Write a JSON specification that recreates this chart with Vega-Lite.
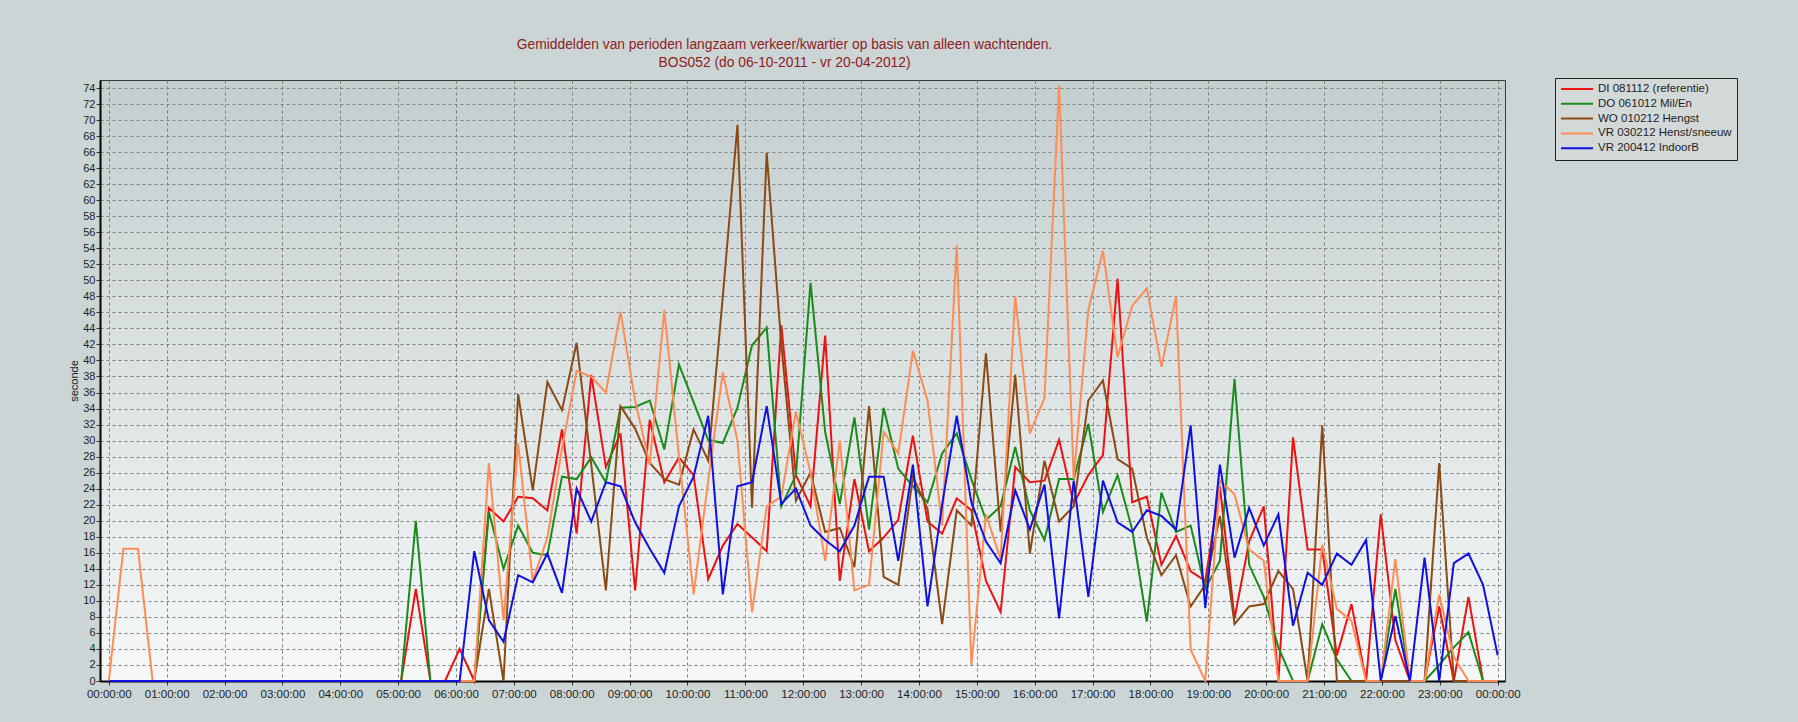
{
  "$schema": "https://vega.github.io/schema/vega-lite/v6.json",
  "width": 1405,
  "height": 601,
  "autosize": {"type": "none"},
  "padding": {"left": 100, "top": 80, "right": 293, "bottom": 41},
  "background": "#cbd5d5",
  "title": {
    "text": ["Gemiddelden van perioden langzaam verkeer/kwartier op basis van alleen wachtenden.", "BOS052 (do 06-10-2011 - vr 20-04-2012)"],
    "color": "#8f2020",
    "font": "Liberation Sans",
    "fontSize": 13.8,
    "fontWeight": "normal",
    "anchor": "middle",
    "dx": -18,
    "offset": 8,
    "lineHeight": 18
  },
  "config": {
    "view": {
      "stroke": "#3a3a3a",
      "strokeWidth": 1,
      "fill": {"gradient": "linear", "x1": 0, "y1": 0, "x2": 0, "y2": 1, "stops": [{"offset": 0, "color": "#c3cece"}, {"offset": 1, "color": "#f6f8f8"}]}
    },
    "font": "Liberation Sans"
  },
  "data": {"values": [
{"kwartier":0,"serie":"DI 081112 (referentie)","seconde":0},{"kwartier":1,"serie":"DI 081112 (referentie)","seconde":0},{"kwartier":2,"serie":"DI 081112 (referentie)","seconde":0},{"kwartier":3,"serie":"DI 081112 (referentie)","seconde":0},{"kwartier":4,"serie":"DI 081112 (referentie)","seconde":0},{"kwartier":5,"serie":"DI 081112 (referentie)","seconde":0},{"kwartier":6,"serie":"DI 081112 (referentie)","seconde":0},{"kwartier":7,"serie":"DI 081112 (referentie)","seconde":0},{"kwartier":8,"serie":"DI 081112 (referentie)","seconde":0},{"kwartier":9,"serie":"DI 081112 (referentie)","seconde":0},
{"kwartier":10,"serie":"DI 081112 (referentie)","seconde":0},{"kwartier":11,"serie":"DI 081112 (referentie)","seconde":0},{"kwartier":12,"serie":"DI 081112 (referentie)","seconde":0},{"kwartier":13,"serie":"DI 081112 (referentie)","seconde":0},{"kwartier":14,"serie":"DI 081112 (referentie)","seconde":0},{"kwartier":15,"serie":"DI 081112 (referentie)","seconde":0},{"kwartier":16,"serie":"DI 081112 (referentie)","seconde":0},{"kwartier":17,"serie":"DI 081112 (referentie)","seconde":0},{"kwartier":18,"serie":"DI 081112 (referentie)","seconde":0},{"kwartier":19,"serie":"DI 081112 (referentie)","seconde":0},
{"kwartier":20,"serie":"DI 081112 (referentie)","seconde":0},{"kwartier":21,"serie":"DI 081112 (referentie)","seconde":11.5},{"kwartier":22,"serie":"DI 081112 (referentie)","seconde":0},{"kwartier":23,"serie":"DI 081112 (referentie)","seconde":0},{"kwartier":24,"serie":"DI 081112 (referentie)","seconde":4},{"kwartier":25,"serie":"DI 081112 (referentie)","seconde":0},{"kwartier":26,"serie":"DI 081112 (referentie)","seconde":21.6},{"kwartier":27,"serie":"DI 081112 (referentie)","seconde":19.9},{"kwartier":28,"serie":"DI 081112 (referentie)","seconde":23},{"kwartier":29,"serie":"DI 081112 (referentie)","seconde":22.8},
{"kwartier":30,"serie":"DI 081112 (referentie)","seconde":21.3},{"kwartier":31,"serie":"DI 081112 (referentie)","seconde":31.4},{"kwartier":32,"serie":"DI 081112 (referentie)","seconde":18.4},{"kwartier":33,"serie":"DI 081112 (referentie)","seconde":38.2},{"kwartier":34,"serie":"DI 081112 (referentie)","seconde":26.7},{"kwartier":35,"serie":"DI 081112 (referentie)","seconde":30.9},{"kwartier":36,"serie":"DI 081112 (referentie)","seconde":11.3},{"kwartier":37,"serie":"DI 081112 (referentie)","seconde":32.6},{"kwartier":38,"serie":"DI 081112 (referentie)","seconde":24.8},{"kwartier":39,"serie":"DI 081112 (referentie)","seconde":27.9},
{"kwartier":40,"serie":"DI 081112 (referentie)","seconde":25.7},{"kwartier":41,"serie":"DI 081112 (referentie)","seconde":12.7},{"kwartier":42,"serie":"DI 081112 (referentie)","seconde":16.9},{"kwartier":43,"serie":"DI 081112 (referentie)","seconde":19.6},{"kwartier":44,"serie":"DI 081112 (referentie)","seconde":17.9},{"kwartier":45,"serie":"DI 081112 (referentie)","seconde":16.2},{"kwartier":46,"serie":"DI 081112 (referentie)","seconde":44.4},{"kwartier":47,"serie":"DI 081112 (referentie)","seconde":25.7},{"kwartier":48,"serie":"DI 081112 (referentie)","seconde":21.8},{"kwartier":49,"serie":"DI 081112 (referentie)","seconde":43.1},
{"kwartier":50,"serie":"DI 081112 (referentie)","seconde":12.5},{"kwartier":51,"serie":"DI 081112 (referentie)","seconde":25.2},{"kwartier":52,"serie":"DI 081112 (referentie)","seconde":16.2},{"kwartier":53,"serie":"DI 081112 (referentie)","seconde":17.9},{"kwartier":54,"serie":"DI 081112 (referentie)","seconde":20.1},{"kwartier":55,"serie":"DI 081112 (referentie)","seconde":30.6},{"kwartier":56,"serie":"DI 081112 (referentie)","seconde":19.9},{"kwartier":57,"serie":"DI 081112 (referentie)","seconde":18.4},{"kwartier":58,"serie":"DI 081112 (referentie)","seconde":22.8},{"kwartier":59,"serie":"DI 081112 (referentie)","seconde":21.3},
{"kwartier":60,"serie":"DI 081112 (referentie)","seconde":12.5},{"kwartier":61,"serie":"DI 081112 (referentie)","seconde":8.6},{"kwartier":62,"serie":"DI 081112 (referentie)","seconde":26.7},{"kwartier":63,"serie":"DI 081112 (referentie)","seconde":24.8},{"kwartier":64,"serie":"DI 081112 (referentie)","seconde":25},{"kwartier":65,"serie":"DI 081112 (referentie)","seconde":30.1},{"kwartier":66,"serie":"DI 081112 (referentie)","seconde":22.1},{"kwartier":67,"serie":"DI 081112 (referentie)","seconde":25.7},{"kwartier":68,"serie":"DI 081112 (referentie)","seconde":28.2},{"kwartier":69,"serie":"DI 081112 (referentie)","seconde":50.2},
{"kwartier":70,"serie":"DI 081112 (referentie)","seconde":22.3},{"kwartier":71,"serie":"DI 081112 (referentie)","seconde":23},{"kwartier":72,"serie":"DI 081112 (referentie)","seconde":14.5},{"kwartier":73,"serie":"DI 081112 (referentie)","seconde":18.1},{"kwartier":74,"serie":"DI 081112 (referentie)","seconde":13.7},{"kwartier":75,"serie":"DI 081112 (referentie)","seconde":12.5},{"kwartier":76,"serie":"DI 081112 (referentie)","seconde":24.3},{"kwartier":77,"serie":"DI 081112 (referentie)","seconde":7.8},{"kwartier":78,"serie":"DI 081112 (referentie)","seconde":17.4},{"kwartier":79,"serie":"DI 081112 (referentie)","seconde":21.8},
{"kwartier":80,"serie":"DI 081112 (referentie)","seconde":0},{"kwartier":81,"serie":"DI 081112 (referentie)","seconde":30.4},{"kwartier":82,"serie":"DI 081112 (referentie)","seconde":16.4},{"kwartier":83,"serie":"DI 081112 (referentie)","seconde":16.4},{"kwartier":84,"serie":"DI 081112 (referentie)","seconde":3.2},{"kwartier":85,"serie":"DI 081112 (referentie)","seconde":9.6},{"kwartier":86,"serie":"DI 081112 (referentie)","seconde":0},{"kwartier":87,"serie":"DI 081112 (referentie)","seconde":20.8},{"kwartier":88,"serie":"DI 081112 (referentie)","seconde":5.1},{"kwartier":89,"serie":"DI 081112 (referentie)","seconde":0},
{"kwartier":90,"serie":"DI 081112 (referentie)","seconde":0},{"kwartier":91,"serie":"DI 081112 (referentie)","seconde":9.3},{"kwartier":92,"serie":"DI 081112 (referentie)","seconde":0},{"kwartier":93,"serie":"DI 081112 (referentie)","seconde":10.5},{"kwartier":94,"serie":"DI 081112 (referentie)","seconde":0},{"kwartier":95,"serie":"DI 081112 (referentie)","seconde":0},

{"kwartier":0,"serie":"DO 061012 Mil/En","seconde":0},{"kwartier":1,"serie":"DO 061012 Mil/En","seconde":0},{"kwartier":2,"serie":"DO 061012 Mil/En","seconde":0},{"kwartier":3,"serie":"DO 061012 Mil/En","seconde":0},{"kwartier":4,"serie":"DO 061012 Mil/En","seconde":0},{"kwartier":5,"serie":"DO 061012 Mil/En","seconde":0},{"kwartier":6,"serie":"DO 061012 Mil/En","seconde":0},{"kwartier":7,"serie":"DO 061012 Mil/En","seconde":0},{"kwartier":8,"serie":"DO 061012 Mil/En","seconde":0},{"kwartier":9,"serie":"DO 061012 Mil/En","seconde":0},
{"kwartier":10,"serie":"DO 061012 Mil/En","seconde":0},{"kwartier":11,"serie":"DO 061012 Mil/En","seconde":0},{"kwartier":12,"serie":"DO 061012 Mil/En","seconde":0},{"kwartier":13,"serie":"DO 061012 Mil/En","seconde":0},{"kwartier":14,"serie":"DO 061012 Mil/En","seconde":0},{"kwartier":15,"serie":"DO 061012 Mil/En","seconde":0},{"kwartier":16,"serie":"DO 061012 Mil/En","seconde":0},{"kwartier":17,"serie":"DO 061012 Mil/En","seconde":0},{"kwartier":18,"serie":"DO 061012 Mil/En","seconde":0},{"kwartier":19,"serie":"DO 061012 Mil/En","seconde":0},
{"kwartier":20,"serie":"DO 061012 Mil/En","seconde":0},{"kwartier":21,"serie":"DO 061012 Mil/En","seconde":20},{"kwartier":22,"serie":"DO 061012 Mil/En","seconde":0},{"kwartier":23,"serie":"DO 061012 Mil/En","seconde":0},{"kwartier":24,"serie":"DO 061012 Mil/En","seconde":0},{"kwartier":25,"serie":"DO 061012 Mil/En","seconde":0},{"kwartier":26,"serie":"DO 061012 Mil/En","seconde":21.1},{"kwartier":27,"serie":"DO 061012 Mil/En","seconde":14},{"kwartier":28,"serie":"DO 061012 Mil/En","seconde":19.4},{"kwartier":29,"serie":"DO 061012 Mil/En","seconde":16},
{"kwartier":30,"serie":"DO 061012 Mil/En","seconde":15.7},{"kwartier":31,"serie":"DO 061012 Mil/En","seconde":25.5},{"kwartier":32,"serie":"DO 061012 Mil/En","seconde":25.2},{"kwartier":33,"serie":"DO 061012 Mil/En","seconde":27.9},{"kwartier":34,"serie":"DO 061012 Mil/En","seconde":24.8},{"kwartier":35,"serie":"DO 061012 Mil/En","seconde":34.1},{"kwartier":36,"serie":"DO 061012 Mil/En","seconde":34.2},{"kwartier":37,"serie":"DO 061012 Mil/En","seconde":35},{"kwartier":38,"serie":"DO 061012 Mil/En","seconde":28.9},{"kwartier":39,"serie":"DO 061012 Mil/En","seconde":39.5},
{"kwartier":40,"serie":"DO 061012 Mil/En","seconde":34.8},{"kwartier":41,"serie":"DO 061012 Mil/En","seconde":30.1},{"kwartier":42,"serie":"DO 061012 Mil/En","seconde":29.7},{"kwartier":43,"serie":"DO 061012 Mil/En","seconde":34.1},{"kwartier":44,"serie":"DO 061012 Mil/En","seconde":41.9},{"kwartier":45,"serie":"DO 061012 Mil/En","seconde":44.1},{"kwartier":46,"serie":"DO 061012 Mil/En","seconde":21.8},{"kwartier":47,"serie":"DO 061012 Mil/En","seconde":25.7},{"kwartier":48,"serie":"DO 061012 Mil/En","seconde":49.7},{"kwartier":49,"serie":"DO 061012 Mil/En","seconde":31.1},
{"kwartier":50,"serie":"DO 061012 Mil/En","seconde":22.1},{"kwartier":51,"serie":"DO 061012 Mil/En","seconde":32.9},{"kwartier":52,"serie":"DO 061012 Mil/En","seconde":18.9},{"kwartier":53,"serie":"DO 061012 Mil/En","seconde":34.1},{"kwartier":54,"serie":"DO 061012 Mil/En","seconde":26.5},{"kwartier":55,"serie":"DO 061012 Mil/En","seconde":24.3},{"kwartier":56,"serie":"DO 061012 Mil/En","seconde":22.3},{"kwartier":57,"serie":"DO 061012 Mil/En","seconde":28.4},{"kwartier":58,"serie":"DO 061012 Mil/En","seconde":30.9},{"kwartier":59,"serie":"DO 061012 Mil/En","seconde":25.2},
{"kwartier":60,"serie":"DO 061012 Mil/En","seconde":20.1},{"kwartier":61,"serie":"DO 061012 Mil/En","seconde":21.8},{"kwartier":62,"serie":"DO 061012 Mil/En","seconde":29.2},{"kwartier":63,"serie":"DO 061012 Mil/En","seconde":21.3},{"kwartier":64,"serie":"DO 061012 Mil/En","seconde":17.6},{"kwartier":65,"serie":"DO 061012 Mil/En","seconde":25.2},{"kwartier":66,"serie":"DO 061012 Mil/En","seconde":25.2},{"kwartier":67,"serie":"DO 061012 Mil/En","seconde":32.1},{"kwartier":68,"serie":"DO 061012 Mil/En","seconde":21.1},{"kwartier":69,"serie":"DO 061012 Mil/En","seconde":25.7},
{"kwartier":70,"serie":"DO 061012 Mil/En","seconde":18.9},{"kwartier":71,"serie":"DO 061012 Mil/En","seconde":7.4},{"kwartier":72,"serie":"DO 061012 Mil/En","seconde":23.5},{"kwartier":73,"serie":"DO 061012 Mil/En","seconde":18.6},{"kwartier":74,"serie":"DO 061012 Mil/En","seconde":19.4},{"kwartier":75,"serie":"DO 061012 Mil/En","seconde":11.5},{"kwartier":76,"serie":"DO 061012 Mil/En","seconde":15},{"kwartier":77,"serie":"DO 061012 Mil/En","seconde":37.7},{"kwartier":78,"serie":"DO 061012 Mil/En","seconde":14.5},{"kwartier":79,"serie":"DO 061012 Mil/En","seconde":10.5},
{"kwartier":80,"serie":"DO 061012 Mil/En","seconde":4.2},{"kwartier":81,"serie":"DO 061012 Mil/En","seconde":0},{"kwartier":82,"serie":"DO 061012 Mil/En","seconde":0},{"kwartier":83,"serie":"DO 061012 Mil/En","seconde":7.1},{"kwartier":84,"serie":"DO 061012 Mil/En","seconde":2.7},{"kwartier":85,"serie":"DO 061012 Mil/En","seconde":0},{"kwartier":86,"serie":"DO 061012 Mil/En","seconde":0},{"kwartier":87,"serie":"DO 061012 Mil/En","seconde":0},{"kwartier":88,"serie":"DO 061012 Mil/En","seconde":11.5},{"kwartier":89,"serie":"DO 061012 Mil/En","seconde":0},
{"kwartier":90,"serie":"DO 061012 Mil/En","seconde":0},{"kwartier":91,"serie":"DO 061012 Mil/En","seconde":2},{"kwartier":92,"serie":"DO 061012 Mil/En","seconde":4.2},{"kwartier":93,"serie":"DO 061012 Mil/En","seconde":6.1},{"kwartier":94,"serie":"DO 061012 Mil/En","seconde":0},{"kwartier":95,"serie":"DO 061012 Mil/En","seconde":0},

{"kwartier":0,"serie":"WO 010212 Hengst","seconde":0},{"kwartier":1,"serie":"WO 010212 Hengst","seconde":0},{"kwartier":2,"serie":"WO 010212 Hengst","seconde":0},{"kwartier":3,"serie":"WO 010212 Hengst","seconde":0},{"kwartier":4,"serie":"WO 010212 Hengst","seconde":0},{"kwartier":5,"serie":"WO 010212 Hengst","seconde":0},{"kwartier":6,"serie":"WO 010212 Hengst","seconde":0},{"kwartier":7,"serie":"WO 010212 Hengst","seconde":0},{"kwartier":8,"serie":"WO 010212 Hengst","seconde":0},{"kwartier":9,"serie":"WO 010212 Hengst","seconde":0},
{"kwartier":10,"serie":"WO 010212 Hengst","seconde":0},{"kwartier":11,"serie":"WO 010212 Hengst","seconde":0},{"kwartier":12,"serie":"WO 010212 Hengst","seconde":0},{"kwartier":13,"serie":"WO 010212 Hengst","seconde":0},{"kwartier":14,"serie":"WO 010212 Hengst","seconde":0},{"kwartier":15,"serie":"WO 010212 Hengst","seconde":0},{"kwartier":16,"serie":"WO 010212 Hengst","seconde":0},{"kwartier":17,"serie":"WO 010212 Hengst","seconde":0},{"kwartier":18,"serie":"WO 010212 Hengst","seconde":0},{"kwartier":19,"serie":"WO 010212 Hengst","seconde":0},
{"kwartier":20,"serie":"WO 010212 Hengst","seconde":0},{"kwartier":21,"serie":"WO 010212 Hengst","seconde":0},{"kwartier":22,"serie":"WO 010212 Hengst","seconde":0},{"kwartier":23,"serie":"WO 010212 Hengst","seconde":0},{"kwartier":24,"serie":"WO 010212 Hengst","seconde":0},{"kwartier":25,"serie":"WO 010212 Hengst","seconde":0},{"kwartier":26,"serie":"WO 010212 Hengst","seconde":11.5},{"kwartier":27,"serie":"WO 010212 Hengst","seconde":0},{"kwartier":28,"serie":"WO 010212 Hengst","seconde":35.8},{"kwartier":29,"serie":"WO 010212 Hengst","seconde":23.8},
{"kwartier":30,"serie":"WO 010212 Hengst","seconde":37.3},{"kwartier":31,"serie":"WO 010212 Hengst","seconde":33.8},{"kwartier":32,"serie":"WO 010212 Hengst","seconde":42.2},{"kwartier":33,"serie":"WO 010212 Hengst","seconde":27},{"kwartier":34,"serie":"WO 010212 Hengst","seconde":11.3},{"kwartier":35,"serie":"WO 010212 Hengst","seconde":34.3},{"kwartier":36,"serie":"WO 010212 Hengst","seconde":31.5},{"kwartier":37,"serie":"WO 010212 Hengst","seconde":27.2},{"kwartier":38,"serie":"WO 010212 Hengst","seconde":25.2},{"kwartier":39,"serie":"WO 010212 Hengst","seconde":24.5},
{"kwartier":40,"serie":"WO 010212 Hengst","seconde":31.4},{"kwartier":41,"serie":"WO 010212 Hengst","seconde":27.5},{"kwartier":42,"serie":"WO 010212 Hengst","seconde":48},{"kwartier":43,"serie":"WO 010212 Hengst","seconde":69.4},{"kwartier":44,"serie":"WO 010212 Hengst","seconde":21.6},{"kwartier":45,"serie":"WO 010212 Hengst","seconde":65.9},{"kwartier":46,"serie":"WO 010212 Hengst","seconde":42},{"kwartier":47,"serie":"WO 010212 Hengst","seconde":22.5},{"kwartier":48,"serie":"WO 010212 Hengst","seconde":26},{"kwartier":49,"serie":"WO 010212 Hengst","seconde":18.6},
{"kwartier":50,"serie":"WO 010212 Hengst","seconde":19.1},{"kwartier":51,"serie":"WO 010212 Hengst","seconde":14.2},{"kwartier":52,"serie":"WO 010212 Hengst","seconde":34.3},{"kwartier":53,"serie":"WO 010212 Hengst","seconde":13},{"kwartier":54,"serie":"WO 010212 Hengst","seconde":12},{"kwartier":55,"serie":"WO 010212 Hengst","seconde":25.5},{"kwartier":56,"serie":"WO 010212 Hengst","seconde":21.5},{"kwartier":57,"serie":"WO 010212 Hengst","seconde":7.1},{"kwartier":58,"serie":"WO 010212 Hengst","seconde":21.3},{"kwartier":59,"serie":"WO 010212 Hengst","seconde":19.4},
{"kwartier":60,"serie":"WO 010212 Hengst","seconde":40.9},{"kwartier":61,"serie":"WO 010212 Hengst","seconde":18.6},{"kwartier":62,"serie":"WO 010212 Hengst","seconde":38.2},{"kwartier":63,"serie":"WO 010212 Hengst","seconde":15.9},{"kwartier":64,"serie":"WO 010212 Hengst","seconde":27.5},{"kwartier":65,"serie":"WO 010212 Hengst","seconde":19.9},{"kwartier":66,"serie":"WO 010212 Hengst","seconde":21.8},{"kwartier":67,"serie":"WO 010212 Hengst","seconde":35},{"kwartier":68,"serie":"WO 010212 Hengst","seconde":37.5},{"kwartier":69,"serie":"WO 010212 Hengst","seconde":27.7},
{"kwartier":70,"serie":"WO 010212 Hengst","seconde":26.5},{"kwartier":71,"serie":"WO 010212 Hengst","seconde":17.9},{"kwartier":72,"serie":"WO 010212 Hengst","seconde":13.2},{"kwartier":73,"serie":"WO 010212 Hengst","seconde":15.7},{"kwartier":74,"serie":"WO 010212 Hengst","seconde":9.3},{"kwartier":75,"serie":"WO 010212 Hengst","seconde":12},{"kwartier":76,"serie":"WO 010212 Hengst","seconde":20.6},{"kwartier":77,"serie":"WO 010212 Hengst","seconde":7.1},{"kwartier":78,"serie":"WO 010212 Hengst","seconde":9.3},{"kwartier":79,"serie":"WO 010212 Hengst","seconde":9.6},
{"kwartier":80,"serie":"WO 010212 Hengst","seconde":13.7},{"kwartier":81,"serie":"WO 010212 Hengst","seconde":11.5},{"kwartier":82,"serie":"WO 010212 Hengst","seconde":0},{"kwartier":83,"serie":"WO 010212 Hengst","seconde":31.9},{"kwartier":84,"serie":"WO 010212 Hengst","seconde":0},{"kwartier":85,"serie":"WO 010212 Hengst","seconde":0},{"kwartier":86,"serie":"WO 010212 Hengst","seconde":0},{"kwartier":87,"serie":"WO 010212 Hengst","seconde":0},{"kwartier":88,"serie":"WO 010212 Hengst","seconde":0},{"kwartier":89,"serie":"WO 010212 Hengst","seconde":0},
{"kwartier":90,"serie":"WO 010212 Hengst","seconde":0},{"kwartier":91,"serie":"WO 010212 Hengst","seconde":27.2},{"kwartier":92,"serie":"WO 010212 Hengst","seconde":0},{"kwartier":93,"serie":"WO 010212 Hengst","seconde":0},{"kwartier":94,"serie":"WO 010212 Hengst","seconde":0},{"kwartier":95,"serie":"WO 010212 Hengst","seconde":0},

{"kwartier":0,"serie":"VR 030212 Henst/sneeuw","seconde":0},{"kwartier":1,"serie":"VR 030212 Henst/sneeuw","seconde":16.5},{"kwartier":2,"serie":"VR 030212 Henst/sneeuw","seconde":16.5},{"kwartier":3,"serie":"VR 030212 Henst/sneeuw","seconde":0},{"kwartier":4,"serie":"VR 030212 Henst/sneeuw","seconde":0},{"kwartier":5,"serie":"VR 030212 Henst/sneeuw","seconde":0},{"kwartier":6,"serie":"VR 030212 Henst/sneeuw","seconde":0},{"kwartier":7,"serie":"VR 030212 Henst/sneeuw","seconde":0},{"kwartier":8,"serie":"VR 030212 Henst/sneeuw","seconde":0},{"kwartier":9,"serie":"VR 030212 Henst/sneeuw","seconde":0},
{"kwartier":10,"serie":"VR 030212 Henst/sneeuw","seconde":0},{"kwartier":11,"serie":"VR 030212 Henst/sneeuw","seconde":0},{"kwartier":12,"serie":"VR 030212 Henst/sneeuw","seconde":0},{"kwartier":13,"serie":"VR 030212 Henst/sneeuw","seconde":0},{"kwartier":14,"serie":"VR 030212 Henst/sneeuw","seconde":0},{"kwartier":15,"serie":"VR 030212 Henst/sneeuw","seconde":0},{"kwartier":16,"serie":"VR 030212 Henst/sneeuw","seconde":0},{"kwartier":17,"serie":"VR 030212 Henst/sneeuw","seconde":0},{"kwartier":18,"serie":"VR 030212 Henst/sneeuw","seconde":0},{"kwartier":19,"serie":"VR 030212 Henst/sneeuw","seconde":0},
{"kwartier":20,"serie":"VR 030212 Henst/sneeuw","seconde":0},{"kwartier":21,"serie":"VR 030212 Henst/sneeuw","seconde":0},{"kwartier":22,"serie":"VR 030212 Henst/sneeuw","seconde":0},{"kwartier":23,"serie":"VR 030212 Henst/sneeuw","seconde":0},{"kwartier":24,"serie":"VR 030212 Henst/sneeuw","seconde":0},{"kwartier":25,"serie":"VR 030212 Henst/sneeuw","seconde":0},{"kwartier":26,"serie":"VR 030212 Henst/sneeuw","seconde":27.2},{"kwartier":27,"serie":"VR 030212 Henst/sneeuw","seconde":7.6},{"kwartier":28,"serie":"VR 030212 Henst/sneeuw","seconde":29.7},{"kwartier":29,"serie":"VR 030212 Henst/sneeuw","seconde":12.5},
{"kwartier":30,"serie":"VR 030212 Henst/sneeuw","seconde":17.9},{"kwartier":31,"serie":"VR 030212 Henst/sneeuw","seconde":29},{"kwartier":32,"serie":"VR 030212 Henst/sneeuw","seconde":38.7},{"kwartier":33,"serie":"VR 030212 Henst/sneeuw","seconde":38},{"kwartier":34,"serie":"VR 030212 Henst/sneeuw","seconde":36},{"kwartier":35,"serie":"VR 030212 Henst/sneeuw","seconde":46.1},{"kwartier":36,"serie":"VR 030212 Henst/sneeuw","seconde":35},{"kwartier":37,"serie":"VR 030212 Henst/sneeuw","seconde":27},{"kwartier":38,"serie":"VR 030212 Henst/sneeuw","seconde":46.3},{"kwartier":39,"serie":"VR 030212 Henst/sneeuw","seconde":28},
{"kwartier":40,"serie":"VR 030212 Henst/sneeuw","seconde":10.8},{"kwartier":41,"serie":"VR 030212 Henst/sneeuw","seconde":25},{"kwartier":42,"serie":"VR 030212 Henst/sneeuw","seconde":38.5},{"kwartier":43,"serie":"VR 030212 Henst/sneeuw","seconde":30},{"kwartier":44,"serie":"VR 030212 Henst/sneeuw","seconde":8.6},{"kwartier":45,"serie":"VR 030212 Henst/sneeuw","seconde":21.8},{"kwartier":46,"serie":"VR 030212 Henst/sneeuw","seconde":23},{"kwartier":47,"serie":"VR 030212 Henst/sneeuw","seconde":33.6},{"kwartier":48,"serie":"VR 030212 Henst/sneeuw","seconde":26},{"kwartier":49,"serie":"VR 030212 Henst/sneeuw","seconde":15},
{"kwartier":50,"serie":"VR 030212 Henst/sneeuw","seconde":30},{"kwartier":51,"serie":"VR 030212 Henst/sneeuw","seconde":11.3},{"kwartier":52,"serie":"VR 030212 Henst/sneeuw","seconde":12},{"kwartier":53,"serie":"VR 030212 Henst/sneeuw","seconde":31.1},{"kwartier":54,"serie":"VR 030212 Henst/sneeuw","seconde":28.4},{"kwartier":55,"serie":"VR 030212 Henst/sneeuw","seconde":41.2},{"kwartier":56,"serie":"VR 030212 Henst/sneeuw","seconde":35},{"kwartier":57,"serie":"VR 030212 Henst/sneeuw","seconde":19.4},{"kwartier":58,"serie":"VR 030212 Henst/sneeuw","seconde":54.4},{"kwartier":59,"serie":"VR 030212 Henst/sneeuw","seconde":2},
{"kwartier":60,"serie":"VR 030212 Henst/sneeuw","seconde":20.8},{"kwartier":61,"serie":"VR 030212 Henst/sneeuw","seconde":15.2},{"kwartier":62,"serie":"VR 030212 Henst/sneeuw","seconde":48},{"kwartier":63,"serie":"VR 030212 Henst/sneeuw","seconde":30.9},{"kwartier":64,"serie":"VR 030212 Henst/sneeuw","seconde":35.3},{"kwartier":65,"serie":"VR 030212 Henst/sneeuw","seconde":74.3},{"kwartier":66,"serie":"VR 030212 Henst/sneeuw","seconde":25.2},{"kwartier":67,"serie":"VR 030212 Henst/sneeuw","seconde":46.3},{"kwartier":68,"serie":"VR 030212 Henst/sneeuw","seconde":53.7},{"kwartier":69,"serie":"VR 030212 Henst/sneeuw","seconde":40.4},
{"kwartier":70,"serie":"VR 030212 Henst/sneeuw","seconde":46.8},{"kwartier":71,"serie":"VR 030212 Henst/sneeuw","seconde":49},{"kwartier":72,"serie":"VR 030212 Henst/sneeuw","seconde":39.2},{"kwartier":73,"serie":"VR 030212 Henst/sneeuw","seconde":48},{"kwartier":74,"serie":"VR 030212 Henst/sneeuw","seconde":3.9},{"kwartier":75,"serie":"VR 030212 Henst/sneeuw","seconde":0},{"kwartier":76,"serie":"VR 030212 Henst/sneeuw","seconde":25},{"kwartier":77,"serie":"VR 030212 Henst/sneeuw","seconde":23.3},{"kwartier":78,"serie":"VR 030212 Henst/sneeuw","seconde":16.4},{"kwartier":79,"serie":"VR 030212 Henst/sneeuw","seconde":15},
{"kwartier":80,"serie":"VR 030212 Henst/sneeuw","seconde":0},{"kwartier":81,"serie":"VR 030212 Henst/sneeuw","seconde":0},{"kwartier":82,"serie":"VR 030212 Henst/sneeuw","seconde":0},{"kwartier":83,"serie":"VR 030212 Henst/sneeuw","seconde":17},{"kwartier":84,"serie":"VR 030212 Henst/sneeuw","seconde":9},{"kwartier":85,"serie":"VR 030212 Henst/sneeuw","seconde":7.5},{"kwartier":86,"serie":"VR 030212 Henst/sneeuw","seconde":0},{"kwartier":87,"serie":"VR 030212 Henst/sneeuw","seconde":0},{"kwartier":88,"serie":"VR 030212 Henst/sneeuw","seconde":15.2},{"kwartier":89,"serie":"VR 030212 Henst/sneeuw","seconde":0},
{"kwartier":90,"serie":"VR 030212 Henst/sneeuw","seconde":0},{"kwartier":91,"serie":"VR 030212 Henst/sneeuw","seconde":10.8},{"kwartier":92,"serie":"VR 030212 Henst/sneeuw","seconde":3},{"kwartier":93,"serie":"VR 030212 Henst/sneeuw","seconde":0},{"kwartier":94,"serie":"VR 030212 Henst/sneeuw","seconde":0},{"kwartier":95,"serie":"VR 030212 Henst/sneeuw","seconde":0},

{"kwartier":0,"serie":"VR 200412 IndoorB","seconde":0},{"kwartier":1,"serie":"VR 200412 IndoorB","seconde":0},{"kwartier":2,"serie":"VR 200412 IndoorB","seconde":0},{"kwartier":3,"serie":"VR 200412 IndoorB","seconde":0},{"kwartier":4,"serie":"VR 200412 IndoorB","seconde":0},{"kwartier":5,"serie":"VR 200412 IndoorB","seconde":0},{"kwartier":6,"serie":"VR 200412 IndoorB","seconde":0},{"kwartier":7,"serie":"VR 200412 IndoorB","seconde":0},{"kwartier":8,"serie":"VR 200412 IndoorB","seconde":0},{"kwartier":9,"serie":"VR 200412 IndoorB","seconde":0},
{"kwartier":10,"serie":"VR 200412 IndoorB","seconde":0},{"kwartier":11,"serie":"VR 200412 IndoorB","seconde":0},{"kwartier":12,"serie":"VR 200412 IndoorB","seconde":0},{"kwartier":13,"serie":"VR 200412 IndoorB","seconde":0},{"kwartier":14,"serie":"VR 200412 IndoorB","seconde":0},{"kwartier":15,"serie":"VR 200412 IndoorB","seconde":0},{"kwartier":16,"serie":"VR 200412 IndoorB","seconde":0},{"kwartier":17,"serie":"VR 200412 IndoorB","seconde":0},{"kwartier":18,"serie":"VR 200412 IndoorB","seconde":0},{"kwartier":19,"serie":"VR 200412 IndoorB","seconde":0},
{"kwartier":20,"serie":"VR 200412 IndoorB","seconde":0},{"kwartier":21,"serie":"VR 200412 IndoorB","seconde":0},{"kwartier":22,"serie":"VR 200412 IndoorB","seconde":0},{"kwartier":23,"serie":"VR 200412 IndoorB","seconde":0},{"kwartier":24,"serie":"VR 200412 IndoorB","seconde":0},{"kwartier":25,"serie":"VR 200412 IndoorB","seconde":16.2},{"kwartier":26,"serie":"VR 200412 IndoorB","seconde":7.6},{"kwartier":27,"serie":"VR 200412 IndoorB","seconde":4.9},{"kwartier":28,"serie":"VR 200412 IndoorB","seconde":13.2},{"kwartier":29,"serie":"VR 200412 IndoorB","seconde":12.3},
{"kwartier":30,"serie":"VR 200412 IndoorB","seconde":15.9},{"kwartier":31,"serie":"VR 200412 IndoorB","seconde":11},{"kwartier":32,"serie":"VR 200412 IndoorB","seconde":24},{"kwartier":33,"serie":"VR 200412 IndoorB","seconde":19.9},{"kwartier":34,"serie":"VR 200412 IndoorB","seconde":24.8},{"kwartier":35,"serie":"VR 200412 IndoorB","seconde":24.3},{"kwartier":36,"serie":"VR 200412 IndoorB","seconde":19.8},{"kwartier":37,"serie":"VR 200412 IndoorB","seconde":16.5},{"kwartier":38,"serie":"VR 200412 IndoorB","seconde":13.5},{"kwartier":39,"serie":"VR 200412 IndoorB","seconde":21.8},
{"kwartier":40,"serie":"VR 200412 IndoorB","seconde":25.5},{"kwartier":41,"serie":"VR 200412 IndoorB","seconde":33.1},{"kwartier":42,"serie":"VR 200412 IndoorB","seconde":10.8},{"kwartier":43,"serie":"VR 200412 IndoorB","seconde":24.3},{"kwartier":44,"serie":"VR 200412 IndoorB","seconde":24.8},{"kwartier":45,"serie":"VR 200412 IndoorB","seconde":34.3},{"kwartier":46,"serie":"VR 200412 IndoorB","seconde":22.1},{"kwartier":47,"serie":"VR 200412 IndoorB","seconde":24},{"kwartier":48,"serie":"VR 200412 IndoorB","seconde":19.4},{"kwartier":49,"serie":"VR 200412 IndoorB","seconde":17.6},
{"kwartier":50,"serie":"VR 200412 IndoorB","seconde":16.2},{"kwartier":51,"serie":"VR 200412 IndoorB","seconde":19.4},{"kwartier":52,"serie":"VR 200412 IndoorB","seconde":25.5},{"kwartier":53,"serie":"VR 200412 IndoorB","seconde":25.5},{"kwartier":54,"serie":"VR 200412 IndoorB","seconde":15},{"kwartier":55,"serie":"VR 200412 IndoorB","seconde":27},{"kwartier":56,"serie":"VR 200412 IndoorB","seconde":9.3},{"kwartier":57,"serie":"VR 200412 IndoorB","seconde":22},{"kwartier":58,"serie":"VR 200412 IndoorB","seconde":33.1},{"kwartier":59,"serie":"VR 200412 IndoorB","seconde":22.3},
{"kwartier":60,"serie":"VR 200412 IndoorB","seconde":17.4},{"kwartier":61,"serie":"VR 200412 IndoorB","seconde":14.7},{"kwartier":62,"serie":"VR 200412 IndoorB","seconde":23.8},{"kwartier":63,"serie":"VR 200412 IndoorB","seconde":18.9},{"kwartier":64,"serie":"VR 200412 IndoorB","seconde":24.5},{"kwartier":65,"serie":"VR 200412 IndoorB","seconde":7.8},{"kwartier":66,"serie":"VR 200412 IndoorB","seconde":25},{"kwartier":67,"serie":"VR 200412 IndoorB","seconde":10.5},{"kwartier":68,"serie":"VR 200412 IndoorB","seconde":25},{"kwartier":69,"serie":"VR 200412 IndoorB","seconde":19.8},
{"kwartier":70,"serie":"VR 200412 IndoorB","seconde":18.6},{"kwartier":71,"serie":"VR 200412 IndoorB","seconde":21.3},{"kwartier":72,"serie":"VR 200412 IndoorB","seconde":20.6},{"kwartier":73,"serie":"VR 200412 IndoorB","seconde":18.9},{"kwartier":74,"serie":"VR 200412 IndoorB","seconde":31.9},{"kwartier":75,"serie":"VR 200412 IndoorB","seconde":9.1},{"kwartier":76,"serie":"VR 200412 IndoorB","seconde":27},{"kwartier":77,"serie":"VR 200412 IndoorB","seconde":15.4},{"kwartier":78,"serie":"VR 200412 IndoorB","seconde":21.6},{"kwartier":79,"serie":"VR 200412 IndoorB","seconde":16.9},
{"kwartier":80,"serie":"VR 200412 IndoorB","seconde":20.8},{"kwartier":81,"serie":"VR 200412 IndoorB","seconde":6.9},{"kwartier":82,"serie":"VR 200412 IndoorB","seconde":13.5},{"kwartier":83,"serie":"VR 200412 IndoorB","seconde":12},{"kwartier":84,"serie":"VR 200412 IndoorB","seconde":15.9},{"kwartier":85,"serie":"VR 200412 IndoorB","seconde":14.5},{"kwartier":86,"serie":"VR 200412 IndoorB","seconde":17.6},{"kwartier":87,"serie":"VR 200412 IndoorB","seconde":0},{"kwartier":88,"serie":"VR 200412 IndoorB","seconde":8.1},{"kwartier":89,"serie":"VR 200412 IndoorB","seconde":0},
{"kwartier":90,"serie":"VR 200412 IndoorB","seconde":15.4},{"kwartier":91,"serie":"VR 200412 IndoorB","seconde":0},{"kwartier":92,"serie":"VR 200412 IndoorB","seconde":14.7},{"kwartier":93,"serie":"VR 200412 IndoorB","seconde":15.9},{"kwartier":94,"serie":"VR 200412 IndoorB","seconde":12},{"kwartier":95,"serie":"VR 200412 IndoorB","seconde":3.2}
  ]},
  "mark": {"type": "line", "strokeWidth": 2, "interpolate": "linear"},
  "encoding": {
    "x": {
      "field": "kwartier",
      "type": "quantitative",
      "scale": {"domain": [-0.6, 95.5], "nice": false, "zero": false},
      "axis": {
        "title": null,
        "values": [0, 3.958333, 7.916667, 11.875, 15.833333, 19.791667, 23.75, 27.708333, 31.666667, 35.625, 39.583333, 43.541667, 47.5, 51.458333, 55.416667, 59.375, 63.333333, 67.291667, 71.25, 75.208333, 79.166667, 83.125, 87.083333, 91.041667, 95],
        "labelExpr": "(round(datum.value*24/95)%24 < 10 ? '0' : '') + (round(datum.value*24/95)%24) + ':00:00'",
        "labelFontSize": 11.5,
        "labelColor": "#1e1e1e",
        "labelFont": "Liberation Sans",
        "labelPadding": 3,
        "tickSize": 4,
        "tickColor": "#333",
        "domainColor": "#000000",
        "domainWidth": 2,
        "grid": true,
        "gridColor": "#808080",
        "gridDash": [3, 3],
        "gridWidth": 1,
        "labelOverlap": false
      }
    },
    "y": {
      "field": "seconde",
      "type": "quantitative",
      "scale": {"domain": [0, 75], "nice": false},
      "axis": {
        "title": "seconde",
        "titleFontWeight": "normal",
        "titleFontSize": 11,
        "titleColor": "#1e1e1e",
        "titleFont": "Liberation Sans",
        "titlePadding": 3,
        "values": [0,2,4,6,8,10,12,14,16,18,20,22,24,26,28,30,32,34,36,38,40,42,44,46,48,50,52,54,56,58,60,62,64,66,68,70,72,74],
        "labelFontSize": 11,
        "labelColor": "#1e1e1e",
        "labelFont": "Liberation Sans",
        "labelPadding": 1,
        "tickSize": 4,
        "tickColor": "#333",
        "domainColor": "#000000",
        "domainWidth": 2,
        "grid": true,
        "gridColor": "#808080",
        "gridDash": [3, 3],
        "gridWidth": 1,
        "labelOverlap": false
      }
    },
    "color": {
      "field": "serie",
      "type": "nominal",
      "scale": {
        "domain": ["DI 081112 (referentie)", "DO 061012 Mil/En", "WO 010212 Hengst", "VR 030212 Henst/sneeuw", "VR 200412 IndoorB"],
        "range": ["#ee1111", "#1a8a1a", "#8b4a14", "#ff8c55", "#1010e0"]
      },
      "legend": {
        "title": null,
        "orient": "none",
        "legendX": 1455,
        "legendY": -2,
        "symbolType": "stroke",
        "symbolSize": 1024,
        "symbolStrokeWidth": 2,
        "clipHeight": 12,
        "labelFontSize": 11.5,
        "labelFont": "Liberation Sans",
        "labelColor": "#1e1e1e",
        "labelOffset": 4,
        "rowPadding": 2.8,
        "padding": 5,
        "fillColor": "#d3d9d9",
        "strokeColor": "#222222",
        "labelLimit": 300
      }
    },
    "order": {"field": "kwartier", "type": "quantitative"}
  }
}
